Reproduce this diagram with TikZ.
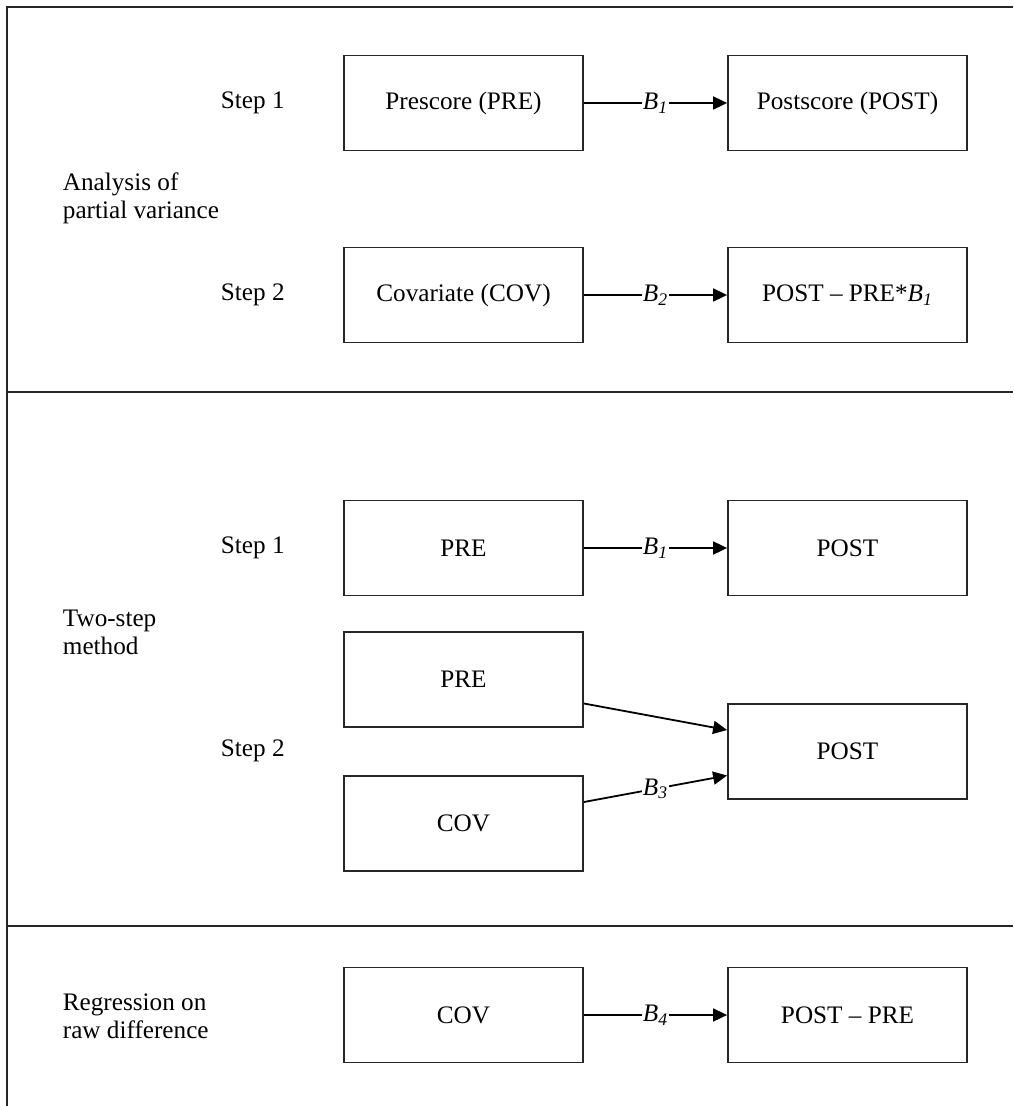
\documentclass[tikz,border=0pt]{standalone}
\usepackage{fontspec}
\setmainfont{Liberation Serif}
\usetikzlibrary{arrows.meta}

\begin{document}
\begin{tikzpicture}[x=0.5pt,y=-0.5pt,line width=0.9pt,>={Triangle[length=7pt,width=6.5pt]},
	box/.style={draw=black!85,minimum width=119.5pt,minimum height=47.5pt,inner sep=0pt,font=\fontsize{12.6}{14}\selectfont},
	side/.style={anchor=west,inner sep=0pt,align=left,font=\fontsize{12.6}{14}\selectfont},
	coef/.style={fill=white,inner sep=0.6pt,font=\fontsize{12.6}{14}\selectfont}]
	\useasboundingbox (0,0) rectangle (1013,1106);
	% frame and separators
	\draw[black!85] (1013,7)--(7,7)--(7,1106);
	\draw[black!85] (7,392)--(1013,392);
	\draw[black!85] (7,926)--(1013,926);
	% analysis of partial variance
	\node[side] (apv) at (62,198) {Analysis of\\partial variance};
	\node[side] (apv1) at (220,103) {Step 1};
	\node[side] (apv2) at (220,295) {Step 2};
	\node[box] (pre) at (463.5,103) {Prescore (PRE)};
	\node[box] (post) at (847.5,103) {Postscore (POST)};
	\node[box] (cov) at (463.5,295) {Covariate (COV)};
	\node[box] (resid) at (847.5,295) {POST -- PRE*\textit{B\textsubscript{1}}};
	\draw[->] (pre)--(post) node[coef,midway]{\textit{B\textsubscript{1}}};
	\draw[->] (cov)--(resid) node[coef,midway]{\textit{B\textsubscript{2}}};
	% two-step method
	\node[side] (tsm) at (62,632) {Two-step\\method};
	\node[side] (tsm1) at (220,548) {Step 1};
	\node[side] (tsm2) at (220,751) {Step 2};
	\node[box] (preA) at (463.5,548) {PRE};
	\node[box] (postA) at (847.5,548) {POST};
	\node[box] (preB) at (463.5,679.5) {PRE};
	\node[box] (covB) at (463.5,823.5) {COV};
	\node[box] (postB) at (847.5,751.5) {POST};
	\draw[->] (preA)--(postA) node[coef,midway]{\textit{B\textsubscript{1}}};
	\draw[->] ([yshift=-12pt]preB.east)--([yshift=10.75pt]postB.west);
	\draw[->] ([yshift=10.75pt]covB.east)--([yshift=-12pt]postB.west) node[coef,midway]{\textit{B\textsubscript{3}}};
	% regression on raw difference
	\node[side] (rrd) at (62,1016) {Regression on\\raw difference};
	\node[box] (covC) at (463.5,1015) {COV};
	\node[box] (diff) at (847.5,1015) {POST -- PRE};
	\draw[->] (covC)--(diff) node[coef,midway]{\textit{B\textsubscript{4}}};
\end{tikzpicture}
\end{document}
